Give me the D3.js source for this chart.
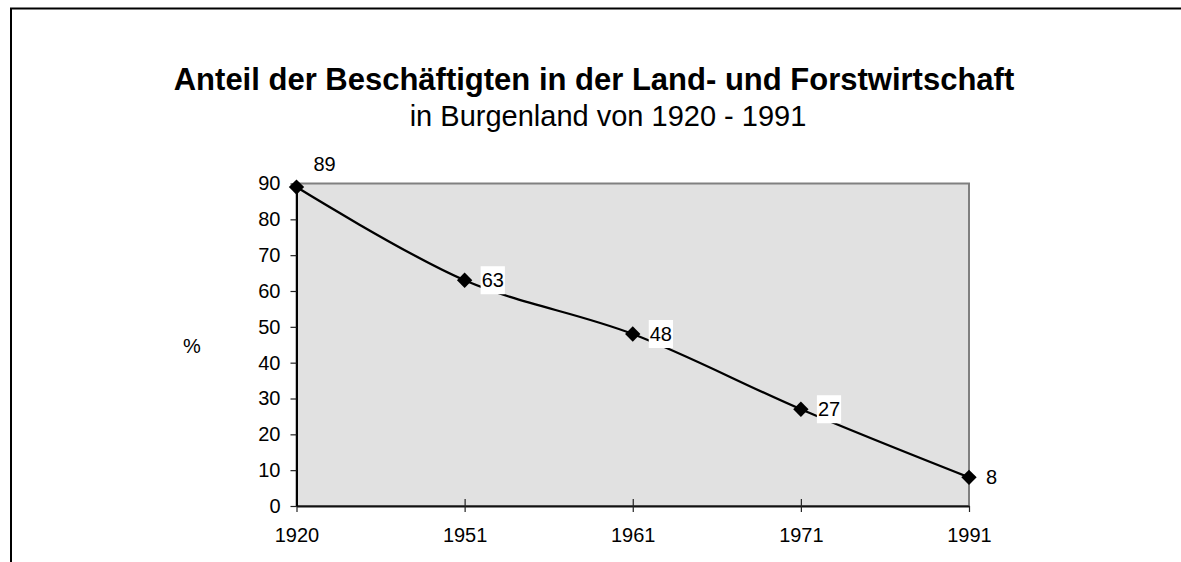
<!DOCTYPE html>
<html lang="de">
<head>
<meta charset="UTF-8">
<title>Anteil der Beschäftigten in der Land- und Forstwirtschaft</title>
<script src="https://cdn.jsdelivr.net/npm/d3@7/dist/d3.min.js"></script>
<style>
    html, body { margin: 0; padding: 0; background: #fff; }
    svg { display: block; font-family: "Liberation Sans", Arial, sans-serif; }
</style>
</head>
<body>
<div id="chart"></div>
<script>
    // Daten
    const years = ["1920", "1951", "1961", "1971", "1991"];
    const shares = [89, 63, 48, 27, 8];
    const yTicks = [0, 10, 20, 30, 40, 50, 60, 70, 80, 90];

    const titleText = "Anteil der Beschäftigten in der Land- und Forstwirtschaft";
    const subtitleText = "in Burgenland von 1920 - 1991";

    const width = 1181,
          height = 562;
    const margin = {top: 183.5, left: 296.5, right: 212, bottom: 56};
    const innerW = width - margin.left - margin.right,
          innerH = height - margin.top - margin.bottom;

    let svg = d3.select("#chart")
        .append("svg")
        .attr("width", width)
        .attr("height", height);

    // äußerer Rahmen (rechts und unten abgeschnitten)
    svg.append("rect")
        .attr("x", 11)
        .attr("y", 8.5)
        .attr("width", 1300)
        .attr("height", 700)
        .attr("fill", "none")
        .attr("stroke", "#000")
        .attr("stroke-width", 2);

    svg.append("text")
        .attr("x", 594)
        .attr("y", 90)
        .attr("text-anchor", "middle")
        .attr("font-size", 31)
        .attr("font-weight", "bold")
        .text(titleText);

    svg.append("text")
        .attr("x", 608)
        .attr("y", 126)
        .attr("text-anchor", "middle")
        .attr("font-size", 29)
        .text(subtitleText);

    svg.append("text")
        .attr("x", 192)
        .attr("y", 353)
        .attr("text-anchor", "middle")
        .attr("font-size", 20)
        .text("%");

    let x = d3.scalePoint()
        .domain(years)
        .range([0, innerW]);

    let y = d3.scaleLinear()
        .domain([0, 90])
        .range([innerH, 0]);

    let g = svg.append("g")
        .attr("transform", `translate(${margin.left},${margin.top})`);

    // Zeichenfläche
    g.append("rect")
        .attr("width", innerW)
        .attr("height", innerH)
        .attr("fill", "#e1e1e1")
        .attr("stroke", "#808080")
        .attr("stroke-width", 2);

    // y-Achse
    let yAxis = g.append("g")
        .call(d3.axisLeft(y).tickValues(yTicks).tickSize(6).tickPadding(10).tickSizeOuter(0));
    yAxis.select(".domain").attr("stroke", "#000").attr("stroke-width", 2);
    yAxis.selectAll(".tick line").attr("stroke", "#222").attr("stroke-width", 1.2);
    yAxis.selectAll(".tick text")
        .attr("font-size", 20)
        .attr("font-family", null)
        .attr("fill", "#000");

    // x-Achse
    let xAxis = g.append("g")
        .attr("transform", `translate(0,${innerH})`)
        .call(d3.axisBottom(x).tickSize(6).tickPadding(16).tickSizeOuter(0));
    xAxis.select(".domain").attr("stroke", "#111").attr("stroke-width", 2);
    xAxis.selectAll(".tick line")
        .attr("y1", (d, i) => i === 0 || i === years.length - 1 ? 0 : -7)
        .attr("stroke", "#222")
        .attr("stroke-width", 1.2);
    xAxis.selectAll(".tick text")
        .attr("font-size", 20)
        .attr("font-family", null)
        .attr("fill", "#000");
    yAxis.raise();

    let pts = years.map((yr, i) => ({year: yr, value: shares[i]}));

    g.append("path")
        .datum(pts)
        .attr("fill", "none")
        .attr("stroke", "#000")
        .attr("stroke-width", 2.3)
        .attr("d", d3.line()
            .x(d => x(d.year))
            .y(d => y(d.value))
            .curve(d3.curveCatmullRom.alpha(0.5)));

    // Datenbeschriftungen mit weißem Hintergrund
    let labels = g.append("g")
        .selectAll("g")
        .data(pts)
        .join("g")
            .attr("transform", d => {
                let cy = y(d.value);
                // ragt das Feld über die Zeichenfläche, wird es darüber gesetzt
                if (cy - 14 < 0) cy = -20;
                return `translate(${x(d.year) + 17},${cy})`;
            });

    labels.append("text")
        .attr("y", 7)
        .attr("font-size", 20)
        .text(d => d.value);

    labels.insert("rect", "text")
        .attr("x", -1)
        .attr("y", -14)
        .attr("height", 28)
        .attr("width", function () {
            return this.parentNode.querySelector("text").getComputedTextLength() + 2;
        })
        .attr("fill", "#fff");

    // Rautenmarker
    g.append("g")
        .selectAll("path")
        .data(pts)
        .join("path")
            .attr("transform", d => `translate(${x(d.year)},${y(d.value)})`)
            .attr("d", d3.symbol(d3.symbolDiamond2, 150))
            .attr("fill", "#000");
</script>
</body>
</html>
